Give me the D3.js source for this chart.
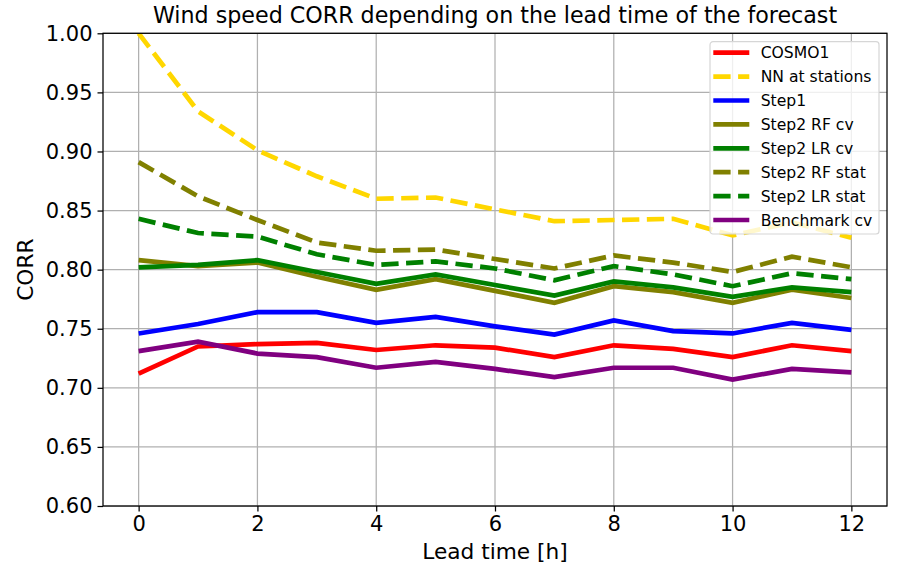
<!DOCTYPE html>
<html>
<head>
<meta charset="utf-8">
<script src="https://cdn.jsdelivr.net/npm/d3@7/dist/d3.min.js"></script>
<style>
  body { margin: 0; background: #fff; }
  text { font-family: "DejaVu Sans", sans-serif; fill: #000; }
  .grid line { stroke: #b0b0b0; stroke-width: 1.25px; }
  .axis path, .axis line { stroke: #000; stroke-width: 1.25px; }
</style>
</head>
<body>
<svg id="chart"></svg>
<script>
// Datos
var leadTimes = [0, 1, 2, 3, 4, 5, 6, 7, 8, 9, 10, 11, 12];
var seriesNames = ["COSMO1", "NN at stations", "Step1", "Step2 RF cv", "Step2 LR cv",
                   "Step2 RF stat", "Step2 LR stat", "Benchmark cv"];
var cosmo1     = [0.712, 0.735, 0.737, 0.738, 0.732, 0.736, 0.734, 0.726, 0.736, 0.733, 0.726, 0.736, 0.731];
var nnStations = [1.000, 0.934, 0.901, 0.879, 0.860, 0.861, 0.851, 0.841, 0.842, 0.843, 0.829, 0.840, 0.827];
var step1      = [0.746, 0.754, 0.764, 0.764, 0.755, 0.760, 0.752, 0.745, 0.757, 0.748, 0.746, 0.755, 0.749];
var rfCv       = [0.808, 0.803, 0.806, 0.794, 0.783, 0.792, 0.782, 0.772, 0.786, 0.781, 0.772, 0.783, 0.776];
var lrCv       = [0.802, 0.804, 0.808, 0.798, 0.788, 0.796, 0.787, 0.778, 0.790, 0.785, 0.777, 0.785, 0.781];
var rfStat     = [0.891, 0.862, 0.842, 0.823, 0.816, 0.817, 0.809, 0.801, 0.812, 0.806, 0.798, 0.811, 0.802];
var lrStat     = [0.843, 0.831, 0.828, 0.813, 0.804, 0.807, 0.801, 0.791, 0.803, 0.796, 0.786, 0.797, 0.792];
var benchmark  = [0.731, 0.739, 0.729, 0.726, 0.717, 0.722, 0.716, 0.709, 0.717, 0.717, 0.707, 0.716, 0.713];
var xTicks = [0, 2, 4, 6, 8, 10, 12];
var yTicks = [0.60, 0.65, 0.70, 0.75, 0.80, 0.85, 0.90, 0.95, 1.00];

var allValues = [cosmo1, nnStations, step1, rfCv, lrCv, rfStat, lrStat, benchmark];
var colors = ["#ff0000", "#ffd700", "#0000ff", "#808000", "#008000", "#808000", "#008000", "#800080"];
var dashed = [false, true, false, false, false, true, true, false];

// Configuracion del grafico
var W = 897, H = 567;
var margin = { top: 33.3, right: 10, bottom: 61, left: 103 };
var width = W - margin.left - margin.right;
var height = H - margin.top - margin.bottom;

var svg = d3.select("#chart").attr("width", W).attr("height", H);
var g = svg.append("g").attr("transform", "translate(" + margin.left + "," + margin.top + ")");

var xScale = d3.scaleLinear().domain([-0.6, 12.6]).range([0, width]);
var yScale = d3.scaleLinear().domain([0.6, 1.0]).range([height, 0]);

// Rejilla
g.append("g").attr("class", "grid")
  .selectAll("line").data(xTicks).enter().append("line")
  .attr("x1", function(d) { return xScale(d); }).attr("x2", function(d) { return xScale(d); })
  .attr("y1", 0).attr("y2", height);
g.append("g").attr("class", "grid")
  .selectAll("line").data(yTicks).enter().append("line")
  .attr("y1", function(d) { return yScale(d); }).attr("y2", function(d) { return yScale(d); })
  .attr("x1", 0).attr("x2", width);

// Lineas
g.append("clipPath").attr("id", "clip")
  .append("rect").attr("width", width).attr("height", height);

var line = d3.line()
  .x(function(d, i) { return xScale(leadTimes[i]); })
  .y(function(d) { return yScale(d); });

allValues.forEach(function(vals, k) {
  g.append("path")
    .datum(vals)
    .attr("clip-path", "url(#clip)")
    .attr("fill", "none")
    .attr("stroke", colors[k])
    .attr("stroke-width", 4.7)
    .attr("stroke-dasharray", dashed[k] ? "17.3,7.5" : null)
    .attr("d", line);
});

// Ejes
var xAxis = g.append("g").attr("class", "axis")
  .attr("transform", "translate(0," + height + ")")
  .call(d3.axisBottom(xScale).tickValues(xTicks).tickSize(5.5).tickPadding(5).tickSizeOuter(0));
var yAxis = g.append("g").attr("class", "axis")
  .call(d3.axisLeft(yScale).tickValues(yTicks).tickFormat(d3.format(".2f")).tickSize(5.5).tickPadding(5).tickSizeOuter(0));
[xAxis, yAxis].forEach(function(a) {
  a.select(".domain").remove();
  a.selectAll("text").style("font-size", "21px").style("font-family", "DejaVu Sans");
});

// Marco
g.append("rect").attr("width", width).attr("height", height)
  .attr("fill", "none").attr("stroke", "#000").attr("stroke-width", 1.25);

// Titulo y etiquetas
svg.append("text")
  .attr("x", margin.left + width / 2).attr("y", 23)
  .attr("text-anchor", "middle").style("font-size", "22.2px")
  .text("Wind speed CORR depending on the lead time of the forecast");
svg.append("text")
  .attr("x", margin.left + width / 2).attr("y", 559)
  .attr("text-anchor", "middle").style("font-size", "21.7px")
  .text("Lead time [h]");
svg.append("text")
  .attr("transform", "translate(33," + (margin.top + height / 2) + ") rotate(-90)")
  .attr("text-anchor", "middle").style("font-size", "21.7px")
  .text("CORR");

// Leyenda
var legend = svg.append("g").attr("transform", "translate(710,41.7)");
legend.append("rect")
  .attr("width", 169).attr("height", 192.3).attr("rx", 3)
  .attr("fill", "#fff").attr("fill-opacity", 0.8)
  .attr("stroke", "#d6d6d6").attr("stroke-width", 1.2);
seriesNames.forEach(function(name, k) {
  var yy = 11 + k * 23.9;
  legend.append("line")
    .attr("x1", 3.3).attr("x2", 39.3).attr("y1", yy).attr("y2", yy)
    .attr("stroke", colors[k]).attr("stroke-width", 4.7)
    .attr("stroke-dasharray", dashed[k] ? "17.3,7.5" : null);
  legend.append("text")
    .attr("x", 50.7).attr("y", yy).attr("dy", "0.36em")
    .style("font-size", "15.6px")
    .text(name);
});
</script>
</body>
</html>
